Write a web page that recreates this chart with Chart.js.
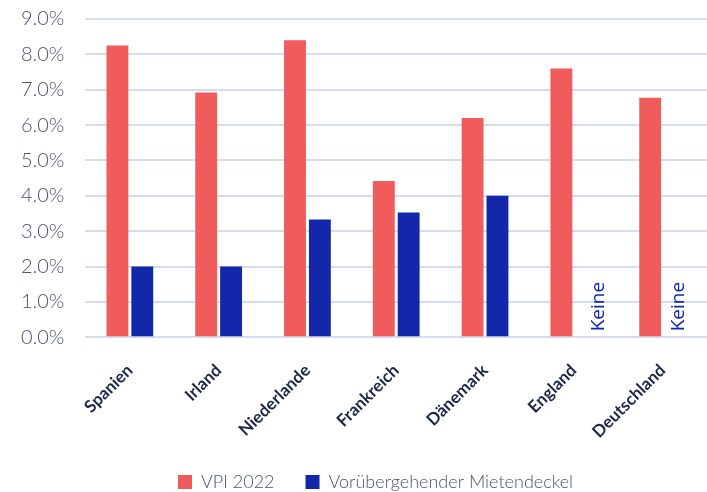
<!DOCTYPE html>
<html>
<head>
<meta charset="utf-8">
<script src="https://cdn.jsdelivr.net/npm/chart.js@4"></script>
<style>
  html, body { margin: 0; padding: 0; background: #ffffff; }
  #wrap { width: 707px; height: 492px; }
</style>
</head>
<body>
<div id="wrap"><canvas id="chart" width="707" height="492"></canvas></div>
<script>
// Länder und Werte in Prozent
const categories = ['Spanien', 'Irland', 'Niederlande', 'Frankreich', 'Dänemark', 'England', 'Deutschland'];
const vpi2022 = [8.25, 6.92, 8.4, 4.42, 6.2, 7.6, 6.77];
const mietendeckel = [2.0, 2.0, 3.33, 3.53, 4.0, null, null];
const seriesNames = ['VPI 2022', 'Vorübergehender Mietendeckel'];
const noCapText = 'Keine';

const RED = '#f05b5c';
const BLUE = '#1227a9';
const GRID = '#d6dcf0';
const TICK = '#4b5272';
const LABEL = '#1e2649';

// Schreibt "Keine" senkrecht dort, wo es keinen Mietendeckel gibt
const noCapPlugin = {
  id: 'noCapLabels',
  afterDatasetsDraw(chart, args, opts) {
    const { ctx, scales: { x, y } } = chart;
    ctx.save();
    ctx.fillStyle = BLUE;
    ctx.font = '19px "Open Sans", sans-serif';
    ctx.textAlign = 'left';
    ctx.textBaseline = 'middle';
    mietendeckel.forEach((v, i) => {
      if (v !== null) return;
      const dx = (opts.shift && opts.shift[i]) || 20;
      const px = x.getPixelForValue(i) + dx;
      const py = y.getPixelForValue(0) - 6;
      ctx.save();
      ctx.translate(px, py);
      ctx.rotate(-Math.PI / 2);
      ctx.fillText(noCapText, 0, 0);
      ctx.restore();
    });
    ctx.restore();
  }
};

// Verschiebt die Legende und die Länderbeschriftung nach dem Layout
const offsetPlugin = {
  id: 'offsets',
  afterLayout(chart, args, opts) {
    const l = chart.legend;
    if (l) {
      l.left += opts.legendDx; l.right += opts.legendDx;
      l.top += opts.legendDy; l.bottom += opts.legendDy;
    }
    const xs = chart.scales.x;
    if (xs && !xs._shifted) {
      const draw = xs.drawLabels;
      xs.drawLabels = function (area) {
        this.ctx.save();
        this.ctx.translate(0, opts.labelDy);
        draw.call(this, area);
        this.ctx.restore();
      };
      xs._shifted = true;
    }
  }
};

new Chart(document.getElementById('chart'), {
  type: 'bar',
  data: {
    labels: categories,
    datasets: [
      { label: seriesNames[0], data: vpi2022, backgroundColor: RED },
      { label: seriesNames[1], data: mietendeckel, backgroundColor: BLUE }
    ]
  },
  options: {
    responsive: false,
    animation: false,
    devicePixelRatio: 1,
    layout: { padding: { top: 19, right: 0, bottom: -10, left: 0 } },
    datasets: { bar: { categoryPercentage: 0.56, barPercentage: 0.88 } },
    scales: {
      x: {
        grid: { display: false },
        border: { display: false },
        ticks: {
          color: LABEL,
          font: { family: 'Lato', weight: 'bold', size: 17 },
          minRotation: 45,
          maxRotation: 45,
          padding: 8
        }
      },
      y: {
        min: 0,
        max: 9,
        grid: { color: GRID, lineWidth: 2, drawTicks: false },
        border: { display: false },
        afterFit(scale) { scale.paddingTop = 0; },
        ticks: {
          stepSize: 1,
          color: TICK,
          padding: 21,
          font: { family: 'Lato', weight: 300, size: 20 },
          callback: v => v.toFixed(1) + '%'
        }
      }
    },
    plugins: {
      legend: {
        position: 'bottom',
        labels: {
          color: TICK,
          boxWidth: 14,
          boxHeight: 14,
          padding: 31,
          font: { family: 'Lato', weight: 300, size: 18 }
        }
      },
      tooltip: { enabled: false },
      noCapLabels: { shift: { 5: 25, 6: 16 } },
      offsets: { legendDx: 22, legendDy: -1, labelDy: 7 }
    }
  },
  plugins: [noCapPlugin, offsetPlugin]
});
</script>
</body>
</html>
